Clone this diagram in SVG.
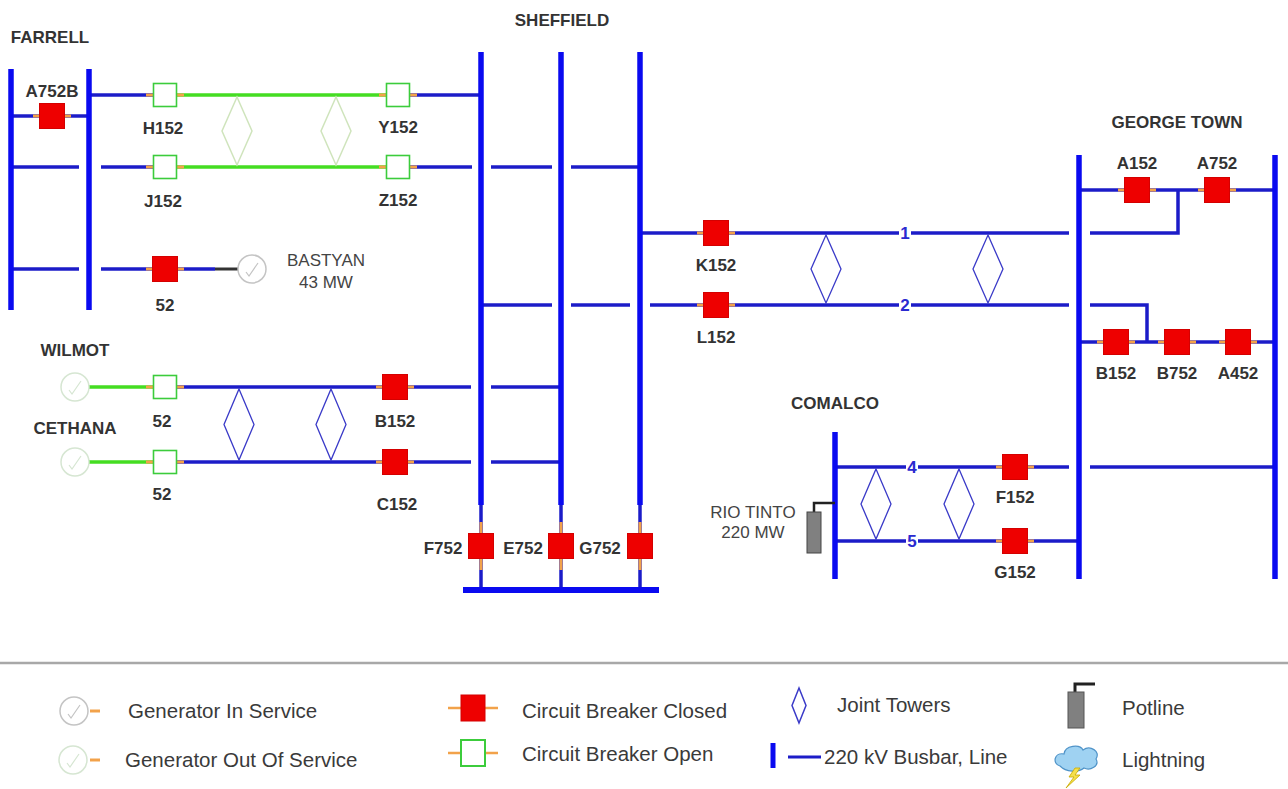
<svg xmlns="http://www.w3.org/2000/svg" width="1288" height="789" viewBox="0 0 1288 789">
<style>
.bus{stroke:#0a0af0;stroke-width:5.5;stroke-linecap:butt;fill:none}
.ln{stroke:#1c1cc8;stroke-width:3.5;fill:none}
.gl{stroke:#44dd22;stroke-width:3.5;fill:none}
.dk{stroke:#333;stroke-width:3;fill:none}
.jt{stroke:#3a3ac8;stroke-width:1.3;fill:none}
.jtg{stroke:#cfe4bc;stroke-width:1.5;fill:none}
.lb{font-family:"Liberation Sans",Arial,sans-serif;font-weight:bold;font-size:17px;fill:#333;text-anchor:middle}
.rg{font-family:"Liberation Sans",Arial,sans-serif;font-size:17px;fill:#444;text-anchor:middle}
.num{font-family:"Liberation Sans",Arial,sans-serif;font-weight:bold;font-size:17px;fill:#2a2ad0;text-anchor:middle}
.lg{font-family:"Liberation Sans",Arial,sans-serif;font-size:20.5px;fill:#3a3a3a}
</style>
<defs>
<g id="cbc"><line x1="-19" y1="0" x2="19" y2="0" stroke="#f2a24a" stroke-width="3"/><rect x="-12.5" y="-12.5" width="25" height="25" fill="#ee0000" stroke="#d40000" stroke-width="1"/></g>
<g id="cbo"><line x1="-19" y1="0" x2="19" y2="0" stroke="#f2a24a" stroke-width="3"/><rect x="-11.5" y="-11.5" width="23" height="23" fill="#fff" stroke="#3ccc3c" stroke-width="1.6"/></g>
<g id="cbv"><line x1="0" y1="-24" x2="0" y2="24" stroke="#f2a24a" stroke-width="3"/><rect x="-12.5" y="-12.5" width="25" height="25" fill="#ee0000" stroke="#d40000" stroke-width="1"/></g>
<g id="genin"><circle r="14" fill="#fff" stroke="#c4c4c4" stroke-width="1.5"/><path d="M-6,3 L-3,7 L6,-6" fill="none" stroke="#c4c4c4" stroke-width="1.2"/></g>
<g id="genout"><circle r="14" fill="#fff" stroke="#d6e6d2" stroke-width="1.5"/><path d="M-6,3 L-3,7 L6,-6" fill="none" stroke="#d6e6d2" stroke-width="1.2"/></g>
</defs>
<rect width="1288" height="789" fill="#fff"/>

<g id="connectors">
<line class="ln" x1="11" y1="116" x2="89" y2="116"/>
<line class="ln" x1="89" y1="95" x2="165" y2="95"/>
<line class="gl" x1="165" y1="95" x2="398" y2="95"/>
<line class="ln" x1="398" y1="95" x2="481" y2="95"/>
<line class="ln" x1="11" y1="167" x2="79" y2="167"/>
<line class="ln" x1="101" y1="167" x2="165" y2="167"/>
<line class="gl" x1="165" y1="167" x2="398" y2="167"/>
<line class="ln" x1="398" y1="167" x2="472" y2="167"/>
<line class="ln" x1="491" y1="167" x2="552" y2="167"/>
<line class="ln" x1="571" y1="167" x2="640" y2="167"/>
<line class="ln" x1="11" y1="269" x2="79" y2="269"/>
<line class="ln" x1="101" y1="269" x2="215" y2="269"/>
<line class="dk" x1="215" y1="269" x2="238" y2="269"/>
<line class="gl" x1="89" y1="387" x2="165" y2="387"/>
<line class="ln" x1="165" y1="387" x2="471" y2="387"/>
<line class="ln" x1="491" y1="387" x2="561" y2="387"/>
<line class="gl" x1="89" y1="462" x2="165" y2="462"/>
<line class="ln" x1="165" y1="462" x2="471" y2="462"/>
<line class="ln" x1="491" y1="462" x2="561" y2="462"/>
<line class="ln" x1="640" y1="233" x2="1069" y2="233"/>
<polyline class="ln" points="1090,233 1178,233 1178,190"/>
<line class="ln" x1="481" y1="305" x2="552" y2="305"/>
<line class="ln" x1="571" y1="305" x2="630" y2="305"/>
<line class="ln" x1="650" y1="305" x2="1069" y2="305"/>
<polyline class="ln" points="1090,305 1147,305 1147,342"/>
<line class="ln" x1="1079" y1="190" x2="1275" y2="190"/>
<line class="ln" x1="1079" y1="342" x2="1275" y2="342"/>
<line class="ln" x1="835" y1="467" x2="1069" y2="467"/>
<line class="ln" x1="1090" y1="467" x2="1275" y2="467"/>
<line class="ln" x1="835" y1="541" x2="1079" y2="541"/>
<line class="ln" x1="481" y1="505" x2="481" y2="590"/>
<line class="ln" x1="561" y1="505" x2="561" y2="590"/>
<line class="ln" x1="640" y1="505" x2="640" y2="590"/>
<polygon class="jtg" points="237,97 252,131 237,165 222,131"/>
<polygon class="jtg" points="336,97 351,131 336,165 321,131"/>
<polygon class="jt" points="239,389 254,424.5 239,460 224,424.5"/>
<polygon class="jt" points="331,389 346,424.5 331,460 316,424.5"/>
<polygon class="jt" points="826,235 841,269 826,303 811,269"/>
<polygon class="jt" points="988,235 1003,269 988,303 973,269"/>
<polygon class="jt" points="876,469 891,504 876,539 861,504"/>
<polygon class="jt" points="959,469 974,504 959,539 944,504"/>
<rect x="899" y="224" width="12" height="18" fill="#fff"/><text class="num" x="905" y="239">1</text>
<rect x="899" y="296" width="12" height="18" fill="#fff"/><text class="num" x="905" y="311">2</text>
<rect x="906" y="458" width="12" height="18" fill="#fff"/><text class="num" x="912" y="473">4</text>
<rect x="906" y="532" width="12" height="18" fill="#fff"/><text class="num" x="912" y="547">5</text>
</g>

<g id="farrell">
<line class="bus" x1="11" y1="69" x2="11" y2="310"/>
<line class="bus" x1="89" y1="69" x2="89" y2="310"/>
<text class="lb" x="50" y="43">FARRELL</text>
<use href="#cbc" x="52" y="116"/><text class="lb" x="52" y="97">A752B</text>
<use href="#cbo" x="165" y="95"/><text class="lb" x="163" y="134">H152</text>
<use href="#cbo" x="165" y="167"/><text class="lb" x="163" y="207">J152</text>
<use href="#cbc" x="165" y="269"/><text class="lb" x="165" y="311">52</text>
</g>

<g id="bastyan">
<use href="#genin" x="252" y="269"/>
<text class="rg" x="326" y="266">BASTYAN</text>
<text class="rg" x="326" y="288">43 MW</text>
</g>

<g id="wilmot">
<text class="lb" x="75" y="356">WILMOT</text>
<use href="#genout" x="75" y="387"/>
<use href="#cbo" x="165" y="387"/><text class="lb" x="162" y="427">52</text>
</g>

<g id="cethana">
<text class="lb" x="75" y="434">CETHANA</text>
<use href="#genout" x="75" y="462"/>
<use href="#cbo" x="165" y="462"/><text class="lb" x="162" y="500">52</text>
</g>

<g id="sheffield">
<text class="lb" x="562" y="26">SHEFFIELD</text>
<line class="bus" x1="481" y1="52" x2="481" y2="505"/>
<line class="bus" x1="561" y1="52" x2="561" y2="505"/>
<line class="bus" x1="640" y1="52" x2="640" y2="505"/>
<line class="bus" x1="463" y1="590" x2="659" y2="590" style="stroke-width:6"/>
<use href="#cbo" x="398" y="95"/><text class="lb" x="398" y="133">Y152</text>
<use href="#cbo" x="398" y="167"/><text class="lb" x="398" y="206">Z152</text>
<use href="#cbc" x="395" y="387"/><text class="lb" x="395" y="427">B152</text>
<use href="#cbc" x="395" y="462"/><text class="lb" x="397" y="510">C152</text>
<use href="#cbv" x="481" y="546"/><text class="lb" x="443" y="554">F752</text>
<use href="#cbv" x="561" y="546"/><text class="lb" x="523" y="554">E752</text>
<use href="#cbv" x="640" y="546"/><text class="lb" x="600" y="554">G752</text>
<use href="#cbc" x="716" y="233"/><text class="lb" x="716" y="271">K152</text>
<use href="#cbc" x="716" y="305"/><text class="lb" x="716" y="343">L152</text>
</g>

<g id="george-town">
<text class="lb" x="1177" y="128">GEORGE TOWN</text>
<line class="bus" x1="1079" y1="155" x2="1079" y2="579"/>
<line class="bus" x1="1275" y1="155" x2="1275" y2="579"/>
<use href="#cbc" x="1137" y="190"/><text class="lb" x="1137" y="169">A152</text>
<use href="#cbc" x="1217" y="190"/><text class="lb" x="1217" y="169">A752</text>
<use href="#cbc" x="1116" y="342"/><text class="lb" x="1116" y="379">B152</text>
<use href="#cbc" x="1177" y="342"/><text class="lb" x="1177" y="379">B752</text>
<use href="#cbc" x="1238" y="342"/><text class="lb" x="1238" y="379">A452</text>
<use href="#cbc" x="1015" y="467"/><text class="lb" x="1015" y="503">F152</text>
<use href="#cbc" x="1015" y="541"/><text class="lb" x="1015" y="578">G152</text>
</g>

<g id="comalco">
<text class="lb" x="835" y="409">COMALCO</text>
<line class="bus" x1="835" y1="432" x2="835" y2="579"/>
</g>

<g id="rio-tinto">
<polyline points="814,512 814,503 835,503" fill="none" stroke="#222" stroke-width="2.5"/>
<rect x="807" y="512" width="14" height="41" fill="#808080" stroke="#444" stroke-width="1"/>
<text class="rg" x="753" y="518">RIO TINTO</text>
<text class="rg" x="753" y="538">220 MW</text>
</g>

<g id="legend">
<line x1="0" y1="663" x2="1288" y2="663" stroke="#a8a8a8" stroke-width="2.5"/>
<use href="#genin" x="74" y="711"/>
<line x1="90" y1="711" x2="100" y2="711" stroke="#f2a24a" stroke-width="3"/>
<text class="lg" x="128" y="718">Generator In Service</text>
<use href="#genout" x="73" y="760"/>
<line x1="90" y1="760" x2="100" y2="760" stroke="#f2a24a" stroke-width="3"/>
<text class="lg" x="125" y="767">Generator Out Of Service</text>
<g transform="translate(473,708)"><line x1="-25" y1="0" x2="25" y2="0" stroke="#f2a24a" stroke-width="2.5"/><rect x="-12" y="-13" width="24" height="26" fill="#ee0000" stroke="#d40000"/></g>
<text class="lg" x="522" y="718">Circuit Breaker Closed</text>
<g transform="translate(473,753)"><line x1="-25" y1="0" x2="25" y2="0" stroke="#f2a24a" stroke-width="2.5"/><rect x="-12" y="-13" width="24" height="26" fill="#fff" stroke="#3ccc3c" stroke-width="2"/></g>
<text class="lg" x="522" y="761">Circuit Breaker Open</text>
<polygon class="jt" points="799,688 806,705.5 799,723 792,705.5" style="stroke-width:1.5"/>
<text class="lg" x="837" y="712">Joint Towers</text>
<line x1="773" y1="743" x2="773" y2="768" stroke="#0a0af0" stroke-width="5"/>
<line x1="788" y1="757" x2="821" y2="757" stroke="#1c1cc8" stroke-width="3"/>
<text class="lg" x="824" y="764">220 kV Busbar, Line</text>
<polyline points="1075,692 1075,684 1095,684" fill="none" stroke="#222" stroke-width="3"/>
<rect x="1068" y="692" width="16" height="36" fill="#808080" stroke="#555" stroke-width="1"/>
<text class="lg" x="1122" y="715">Potline</text>
<path d="M1060,766 C1052,764 1054,752 1064,754 C1065,745 1080,744 1083,750 C1090,745 1101,751 1096,759 C1100,766 1090,771 1084,768 C1078,773 1066,772 1060,766 Z" fill="#9fd2f2" stroke="#4f93c8" stroke-width="1.2"/>
<polygon points="1075,768 1069,777 1074,777 1066,788 1080,775 1075,775 1080,768" fill="#f5e04a" stroke="#c8a800" stroke-width="0.8"/>
<text class="lg" x="1122" y="767">Lightning</text>
</g>
</svg>
